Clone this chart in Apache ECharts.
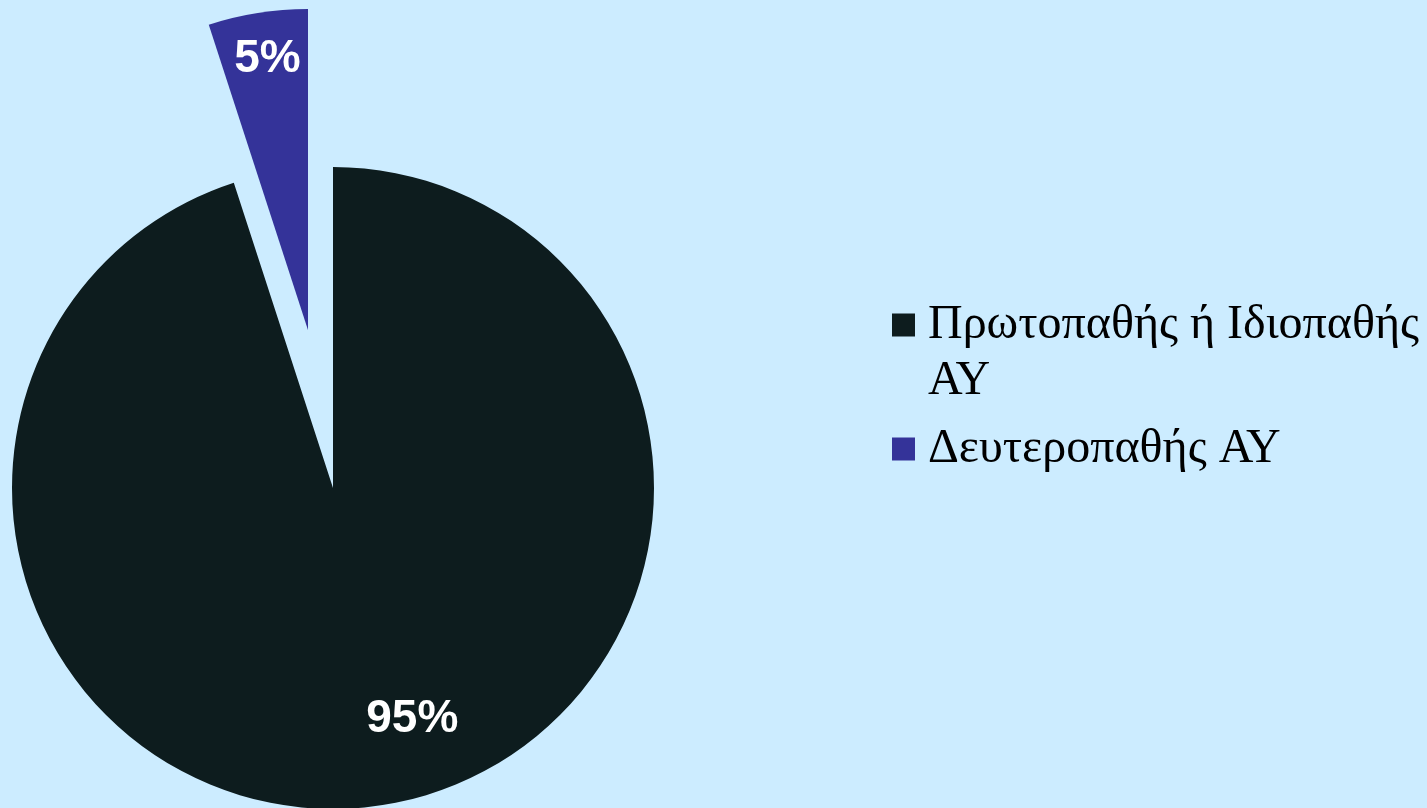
<!DOCTYPE html>
<html>
<head>
<meta charset="utf-8">
<script src="https://cdn.jsdelivr.net/npm/echarts@6/dist/echarts.min.js"></script>
<style>
  html, body { margin: 0; padding: 0; background: #CCECFF; }
  #chart { width: 1427px; height: 808px; }
</style>
</head>
<body>
<div id="chart"></div>
<script>
// Categories and their shares (percent)
const CATEGORIES = ['Πρωτοπαθής ή Ιδιοπαθής ΑΥ', 'Δευτεροπαθής ΑΥ'];
const VALUES = [95, 5];
const EXPLODED = [false, true];
const COLORS = ['#0D1C1E', '#343399'];

// Pie geometry (pixels)
const CENTER = [333, 488];
const RADIUS = 321;
const EXPLODE_OFFSET = 160;
// Label placement: fraction of radius and angular shift (deg) from slice middle
const LABEL_RADIUS_FRAC = [0.754, 0.843];
const LABEL_ANGLE_SHIFT = [-10, 0.5];

const LEGEND_FONT_SIZE = 48;
const LEGEND_FONT_FAMILY = '"Liberation Serif", "Times New Roman", serif';
const LEGEND_WRAP_WIDTH = 500;

const total = VALUES.reduce((a, b) => a + b, 0);
// middle angle of each slice, clockwise from 12 o'clock (degrees)
const midAngles = [];
let acc = 0;
VALUES.forEach(v => {
  const span = v / total * 360;
  midAngles.push(acc + span / 2);
  acc += span;
});

// ECharts puts inside labels at half radius on the slice middle; the padding
// below moves each label to its own spot inside the slice.
function labelPadding(i) {
  const toRad = Math.PI / 180;
  const m = midAngles[i] * toRad;
  const a = (midAngles[i] + LABEL_ANGLE_SHIFT[i]) * toRad;
  const r = RADIUS * LABEL_RADIUS_FRAC[i];
  const sx = Math.sin(a) * r - Math.sin(m) * RADIUS / 2;
  const sy = -Math.cos(a) * r + Math.cos(m) * RADIUS / 2;
  return [Math.max(0, 2 * sy), Math.max(0, -2 * sx), Math.max(0, -2 * sy), Math.max(0, 2 * sx)];
}

// Word wrap for legend names; blank lines in front keep the first line level with the marker
const measureCtx = document.createElement('canvas').getContext('2d');
measureCtx.font = LEGEND_FONT_SIZE + 'px ' + LEGEND_FONT_FAMILY;
function wrapLegend(name) {
  const words = name.split(' ');
  const lines = [];
  let cur = '';
  words.forEach(w => {
    const test = cur ? cur + ' ' + w : w;
    if (cur && measureCtx.measureText(test).width > LEGEND_WRAP_WIDTH) {
      lines.push(cur);
      cur = w;
    } else {
      cur = test;
    }
  });
  lines.push(cur);
  const pad = new Array(lines.length - 1).fill('');
  return pad.concat(lines).join('\n');
}

const chart = echarts.init(document.getElementById('chart'), null, { renderer: 'canvas' });

chart.setOption({
  backgroundColor: '#CCECFF',
  animation: false,
  legend: {
    orient: 'vertical',
    left: 887,
    top: 236,
    icon: 'rect',
    itemWidth: 23,
    itemHeight: 23,
    itemGap: 12,
    selectedMode: false,
    formatter: wrapLegend,
    textStyle: {
      fontFamily: LEGEND_FONT_FAMILY,
      fontSize: LEGEND_FONT_SIZE,
      lineHeight: 56,
      color: '#000',
      padding: [0, 0, 0, 8]
    },
    data: CATEGORIES
  },
  series: [{
    type: 'pie',
    center: CENTER,
    radius: RADIUS,
    startAngle: 90,
    clockwise: true,
    selectedMode: 'single',
    selectedOffset: EXPLODE_OFFSET,
    avoidLabelOverlap: false,
    percentPrecision: 0,
    emphasis: { disabled: true },
    itemStyle: { borderWidth: 0 },
    label: {
      show: true,
      position: 'inside',
      formatter: '{v|{d}%}',
      rich: {
        v: {
          color: '#FFFFFF',
          fontFamily: '"Liberation Sans", Arial, sans-serif',
          fontWeight: 'bold',
          fontSize: 46
        }
      }
    },
    labelLine: { show: false },
    data: CATEGORIES.map((name, i) => ({
      name: name,
      value: VALUES[i],
      selected: EXPLODED[i],
      itemStyle: { color: COLORS[i] },
      label: { padding: labelPadding(i) }
    }))
  }]
});
</script>
</body>
</html>
